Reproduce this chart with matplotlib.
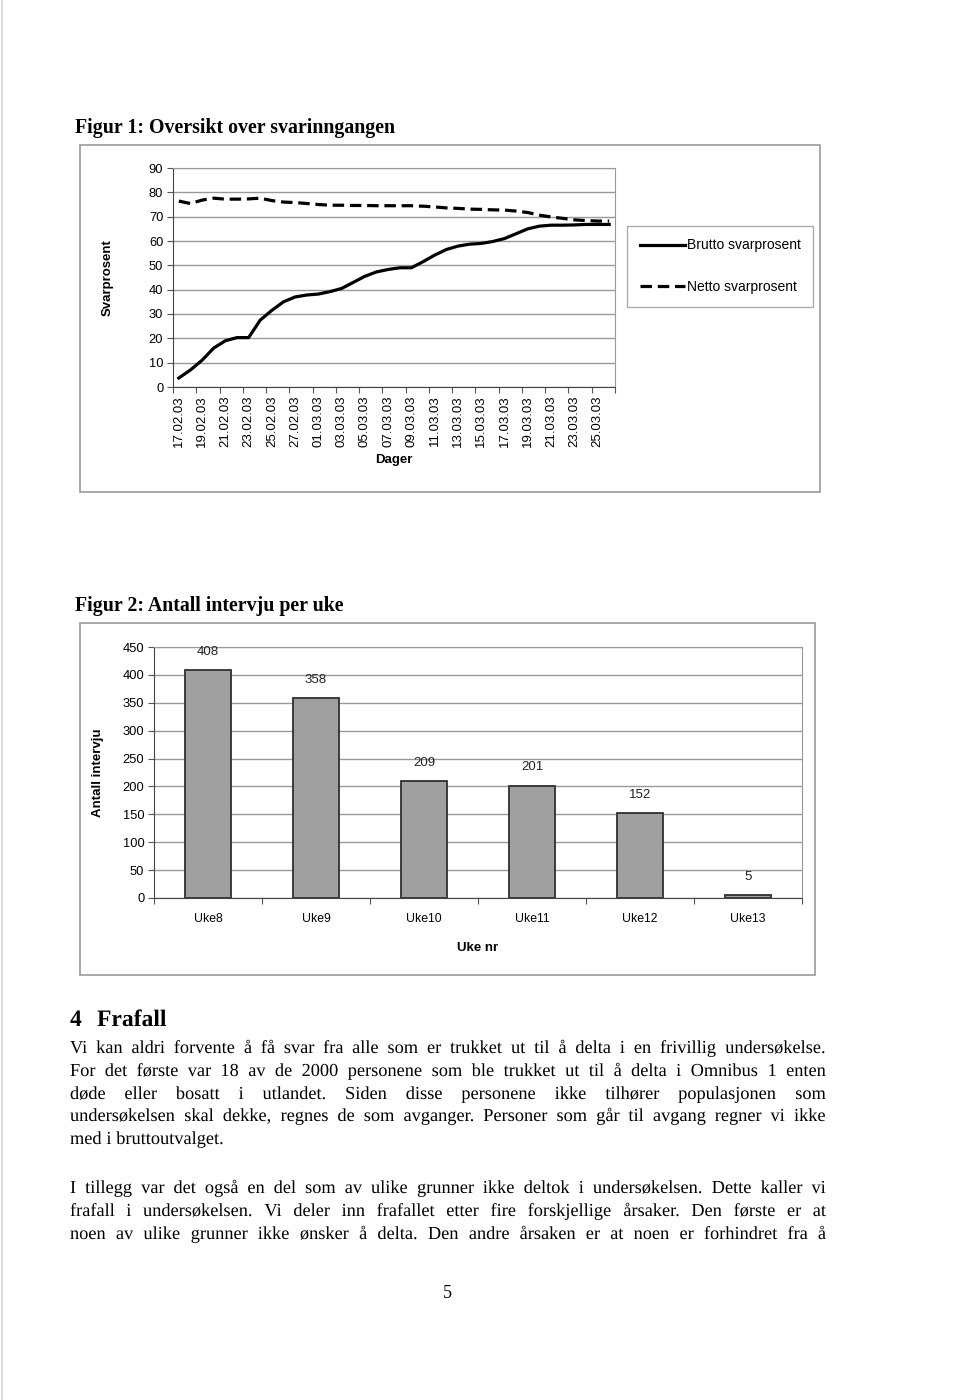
import matplotlib
matplotlib.use('Agg')
import matplotlib.pyplot as plt
import matplotlib.patheffects as pe
from matplotlib.patches import Rectangle
from matplotlib.lines import Line2D

W, H = 960, 1400

# Figur 1: svarinngang per dag
dager = ['17.02.03', '18.02.03', '19.02.03', '20.02.03', '21.02.03', '22.02.03',
         '23.02.03', '24.02.03', '25.02.03', '26.02.03', '27.02.03', '28.02.03',
         '01.03.03', '02.03.03', '03.03.03', '04.03.03', '05.03.03', '06.03.03',
         '07.03.03', '08.03.03', '09.03.03', '10.03.03', '11.03.03', '12.03.03',
         '13.03.03', '14.03.03', '15.03.03', '16.03.03', '17.03.03', '18.03.03',
         '19.03.03', '20.03.03', '21.03.03', '22.03.03', '23.03.03', '24.03.03',
         '25.03.03', '26.03.03']
brutto = [3.7, 7, 11, 16, 19, 20.3, 20.3, 27.5, 31.5, 35, 37, 37.8, 38.2, 39.2,
          40.5, 43, 45.5, 47.3, 48.3, 49, 49, 51.5, 54.2, 56.5, 57.9, 58.7, 59,
          59.8, 61, 63, 65, 66.1, 66.5, 66.5, 66.6, 66.8, 66.8, 66.8]
netto = [76.4, 75.4, 76.8, 77.6, 77.2, 77.2, 77.3, 77.6, 76.6, 76.0, 75.8, 75.4,
         75.0, 74.7, 74.7, 74.6, 74.6, 74.5, 74.5, 74.5, 74.5, 74.3, 74.0, 73.6,
         73.4, 73.1, 73.0, 72.8, 72.7, 72.3, 71.7, 70.6, 69.9, 69.3, 68.7, 68.4,
         68.2, 68.2]

# Figur 2: antall intervju per uke
uker = ['Uke8', 'Uke9', 'Uke10', 'Uke11', 'Uke12', 'Uke13']
intervju = [408, 358, 209, 201, 152, 5]

avsnitt1 = [
    "Vi kan aldri forvente å få svar fra alle som er trukket ut til å delta i en frivillig undersøkelse.",
    "For det første var 18 av de 2000 personene som ble trukket ut til å delta i Omnibus 1 enten",
    "døde eller bosatt i utlandet. Siden disse personene ikke tilhører populasjonen som",
    "undersøkelsen skal dekke, regnes de som avganger. Personer som går til avgang regner vi ikke",
    "med i bruttoutvalget.",
]
avsnitt2 = [
    "I tillegg var det også en del som av ulike grunner ikke deltok i undersøkelsen. Dette kaller vi",
    "frafall i undersøkelsen. Vi deler inn frafallet etter fire forskjellige årsaker. Den første er at",
    "noen av ulike grunner ikke ønsker å delta. Den andre årsaken er at noen er forhindret fra å",
]

SANS = 'Liberation Sans'
SERIF = 'Liberation Serif'
GRID = '#999999'
AS_PATH = [pe.Normal()]   # draw text as paths -> exact, shared baselines


def box(x0, y0, x1, y1):
    return [x0 / W, 1 - y1 / H, (x1 - x0) / W, (y1 - y0) / H]


def fx(x):
    return x / W


def fy(y):
    return 1 - y / H


fig = plt.figure(figsize=(9.6, 14), dpi=100)
fig.patch.set_facecolor('white')

# faint scan edge
fig.add_artist(Line2D([fx(1.5), fx(1.5)], [0, 1], color='#d8d8d8', lw=1.2))

# ---------------- Figur 1 ----------------
fig.text(fx(75), fy(128), 'Figur 1: Oversikt over svarinngangen', family=SERIF,
         weight='bold', fontsize=14.3, va='center', ha='left')
fig.add_artist(Rectangle((fx(80), fy(492)), fx(820) - fx(80), fy(145) - fy(492),
                         transform=fig.transFigure, fill=False, ec='#9a9a9a', lw=1.2))

ax1 = fig.add_axes(box(173, 168, 615, 387))
x = list(range(len(dager)))
ax1.plot(x, brutto, color='black', lw=2.3, label='Brutto svarprosent',
         solid_joinstyle='round')
ax1.plot(x, netto, color='black', lw=2.3, ls=(0, (3.6, 1.8)), label='Netto svarprosent')
ax1.set_xlim(-0.5, len(dager) - 0.5)
ax1.set_ylim(0, 90)
ax1.set_yticks(range(0, 91, 10))
ax1.yaxis.grid(True, color=GRID, lw=1.0)
ax1.set_axisbelow(True)
ax1.set_xticks([i - 0.5 for i in range(0, len(dager) + 1, 2)])
ax1.set_xticklabels([])
ax1.set_xticks(x[::2], minor=True)
ax1.set_xticklabels(dager[::2], minor=True, rotation=90, family=SANS, fontsize=9.5)
ax1.tick_params(axis='x', which='minor', length=0, pad=6)
ax1.tick_params(axis='x', which='major', length=4, color='#555')
ax1.tick_params(axis='y', length=4, color='#555', labelsize=9.3, pad=3)
for lab in ax1.get_yticklabels():
    lab.set_family(SANS)
for s in ['top', 'right']:
    ax1.spines[s].set_color(GRID)
for s in ['left', 'bottom']:
    ax1.spines[s].set_color('#444')
ax1.set_ylabel('Svarprosent', family=SANS, weight='bold', fontsize=9.5, labelpad=25)
ax1.set_xlabel('Dager', family=SANS, weight='bold', fontsize=9.5, labelpad=5)

h, l = ax1.get_legend_handles_labels()
leg = fig.legend(h, l, loc='upper left', bbox_to_anchor=(fx(627), fy(226)),
                 frameon=True, fancybox=False, edgecolor=GRID,
                 prop={'family': SANS, 'size': 10}, handlelength=3.3,
                 handletextpad=0.1, labelspacing=2.0, borderpad=0.9,
                 borderaxespad=0)
leg.get_frame().set_linewidth(1.0)

# ---------------- Figur 2 ----------------
fig.text(fx(75), fy(606), 'Figur 2: Antall intervju per uke', family=SERIF,
         weight='bold', fontsize=14.3, va='center', ha='left')
fig.add_artist(Rectangle((fx(80), fy(975)), fx(815) - fx(80), fy(623) - fy(975),
                         transform=fig.transFigure, fill=False, ec='#9a9a9a', lw=1.2))

ax2 = fig.add_axes(box(154, 647, 802, 898))
xb = list(range(len(uker)))
ax2.bar(xb, intervju, width=0.42, color='#a0a0a0', edgecolor='#303030', lw=1.3)
for xi, v in zip(xb, intervju):
    ax2.annotate(str(v), (xi, v), xytext=(0, 9), textcoords='offset points',
                 ha='center', va='bottom', family=SANS, fontsize=9.5, color='#222')
ax2.set_xlim(-0.5, len(uker) - 0.5)
ax2.set_ylim(0, 450)
ax2.set_yticks(range(0, 451, 50))
ax2.yaxis.grid(True, color=GRID, lw=1.0)
ax2.set_axisbelow(True)
ax2.set_xticks([i - 0.5 for i in range(len(uker) + 1)])
ax2.set_xticklabels([])
ax2.set_xticks(xb, minor=True)
ax2.set_xticklabels(uker, minor=True, family=SANS, fontsize=8.8)
ax2.tick_params(axis='x', which='minor', length=0, pad=11)
ax2.tick_params(axis='x', which='major', length=4, color='#555')
ax2.tick_params(axis='y', length=4, color='#555', labelsize=9.3, pad=3)
for lab in ax2.get_yticklabels():
    lab.set_family(SANS)
for s in ['top', 'right']:
    ax2.spines[s].set_color(GRID)
for s in ['left', 'bottom']:
    ax2.spines[s].set_color('#444')
ax2.set_ylabel('Antall intervju', family=SANS, weight='bold', fontsize=9.5, labelpad=13)
ax2.set_xlabel('Uke nr', family=SANS, weight='bold', fontsize=9.5, labelpad=12)

# ---------------- Tekst ----------------
fig.text(fx(70), fy(1026), '4', family=SERIF, weight='bold', fontsize=17,
         va='baseline', path_effects=AS_PATH)
fig.text(fx(97), fy(1026), 'Frafall', family=SERIF, weight='bold', fontsize=17,
         va='baseline', path_effects=AS_PATH)

renderer = fig.canvas.get_renderer()
BODY = 13.2


def line_text(s, y, x0=70, x1=826, justify=True):
    words = s.split(' ')
    ts = [fig.text(0, fy(y), w, family=SERIF, fontsize=BODY, va='baseline',
                   path_effects=AS_PATH) for w in words]
    widths = [t.get_window_extent(renderer).width for t in ts]
    if justify and len(words) > 1:
        gap = (x1 - x0 - sum(widths)) / (len(words) - 1)
    else:
        sp = fig.text(0, 0, 'a a', family=SERIF, fontsize=BODY)
        sq = fig.text(0, 0, 'aa', family=SERIF, fontsize=BODY)
        gap = sp.get_window_extent(renderer).width - sq.get_window_extent(renderer).width
        sp.remove()
        sq.remove()
    xp = x0
    for t, w in zip(ts, widths):
        t.set_x(fx(xp))
        xp += w + gap


for i, s in enumerate(avsnitt1):
    line_text(s, 1053 + round(i * 22.8), justify=(i < len(avsnitt1) - 1))
for i, s in enumerate(avsnitt2):
    line_text(s, 1193 + round(i * 22.8))

fig.text(fx(447), fy(1298), '5', family=SERIF, fontsize=13, ha='center', va='baseline')

fig.savefig('out.png', dpi=100, facecolor='white')
